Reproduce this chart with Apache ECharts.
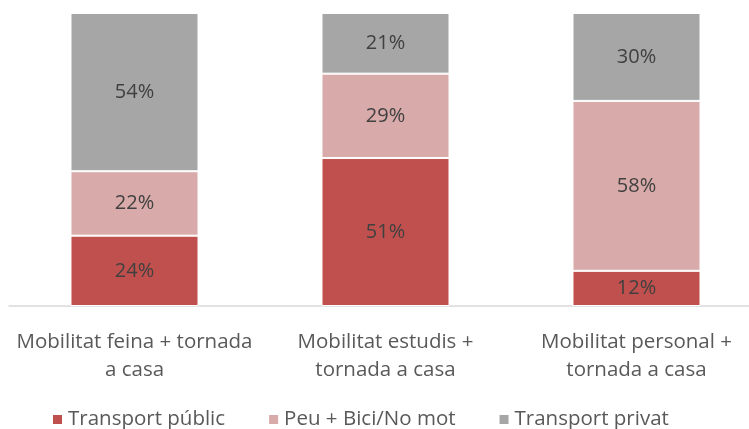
<!DOCTYPE html>
<html><head><meta charset="utf-8">
<script src="https://cdn.jsdelivr.net/npm/echarts@6/dist/echarts.min.js"></script>
<style>html,body{margin:0;padding:0;background:#fff}#c{width:749px;height:429px}</style>
</head><body><div id="c"></div>
<script>
const categories = ['Mobilitat feina + tornada\na casa', 'Mobilitat estudis +\ntornada a casa', 'Mobilitat personal +\ntornada a casa'];
const seriesNames = ['Transport públic', 'Peu + Bici/No mot', 'Transport privat'];
const transportPublic = [24, 50.5, 12];
const peuBici = [22, 28.8, 58];
const transportPrivat = [54, 20.7, 30];
const colors = ['#C0504D', '#D9AAAA', '#A6A6A6'];
const FONT = 'Open Sans';

const chart = echarts.init(document.getElementById('c'));
const mk = (name, data, color) => ({
  name, type: 'bar', stack: 'total', data, barWidth: '51%',
  itemStyle: { color, borderColor: '#fff', borderWidth: 1 },
  label: { show: true, position: 'inside', color: '#404040', fontSize: 20, fontFamily: FONT,
    formatter: p => Math.round(p.value) + '%' },
  emphasis: { disabled: true }
});
chart.setOption({
  animation: false,
  color: colors,
  grid: { left: 9, top: 13, width: 753, height: 293, containLabel: false, outerBoundsMode: 'none' },
  xAxis: {
    type: 'category', data: categories,
    axisLine: { lineStyle: { color: '#D9D9D9', width: 1.5 } },
    axisTick: { show: false },
    axisLabel: { color: '#595959', fontSize: 20.5, fontFamily: FONT, lineHeight: 28, margin: 22, interval: 0 }
  },
  yAxis: { type: 'value', min: 0, max: 100, show: false, splitLine: { show: false } },
  legend: {
    top: 404, left: 46, icon: 'rect', itemWidth: 11, itemHeight: 11, itemGap: 42,
    textStyle: { color: '#595959', fontSize: 20.5, fontFamily: FONT },
    data: seriesNames
  },
  series: [
    mk(seriesNames[0], transportPublic, colors[0]),
    mk(seriesNames[1], peuBici, colors[1]),
    mk(seriesNames[2], transportPrivat, colors[2])
  ]
});
</script></body></html>
